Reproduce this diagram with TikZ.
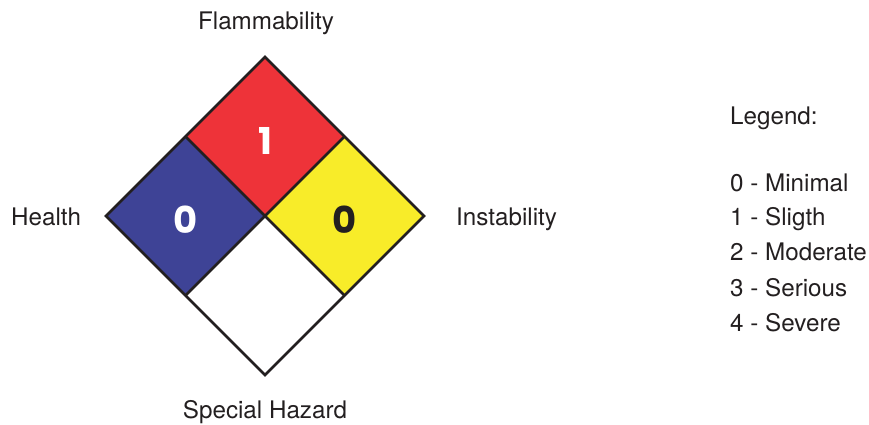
\documentclass[tikz,border=0pt]{standalone}
\usepackage{fontspec}
\setmainfont{TeX Gyre Heros}
\newfontfamily\numfont{Poppins}[UprightFont=* Bold]
\definecolor{nfpared}{RGB}{238,51,57}
\definecolor{nfpablue}{RGB}{62,67,150}
\definecolor{nfpayellow}{RGB}{248,236,41}
\definecolor{edge}{RGB}{35,31,32}
\definecolor{txt}{RGB}{35,31,32}
\begin{document}
\begin{tikzpicture}[x=1pt,y=-1pt,
  cell/.style={draw=edge,line width=2.6pt,line join=miter},
  lbl/.style={inner sep=0pt,text=txt,font=\fontsize{24.2}{28}\selectfont},
  num/.style={inner sep=0pt,font=\numfont\fontsize{37}{40}\selectfont}]
\useasboundingbox (0,0) rectangle (869,424);
\coordinate (T) at (265,57);
\coordinate (L) at (106,216);
\coordinate (R) at (424,216);
\coordinate (B) at (265,375);
\coordinate (C) at (265,216);
\coordinate (TL) at (185.5,136.5);
\coordinate (TR) at (344.5,136.5);
\coordinate (BL) at (185.5,295.5);
\coordinate (BR) at (344.5,295.5);
\fill[nfpared] (T) -- (TR) -- (C) -- (TL) -- cycle;
\fill[nfpablue] (TL) -- (C) -- (BL) -- (L) -- cycle;
\fill[nfpayellow] (TR) -- (R) -- (BR) -- (C) -- cycle;
\fill[white] (C) -- (BR) -- (B) -- (BL) -- cycle;
\draw[cell] (T) -- (R) -- (B) -- (L) -- cycle;
\draw[cell] (TL) -- (BR);
\draw[cell] (TR) -- (BL);
\node[num,text=white] (n1) at (265,141) {1};
\node[num,text=white] (n2) at (185.5,219.5) {0};
\node[num,text=txt] (n3) at (344.5,219.5) {0};
\node[lbl,anchor=base] (flam) at (266,29) {Flammability};
\node[lbl,anchor=base west] (health) at (11,225) {Health};
\node[lbl,anchor=base west] (inst) at (456,225) {Instability};
\node[lbl,anchor=base] (spec) at (265,418) {Special Hazard};
\node[lbl,anchor=base west] (leg) at (730,124) {Legend:};
\node[lbl,anchor=base west] (l0) at (730,191) {0 - Minimal};
\node[lbl,anchor=base west] (l1) at (730,225) {1 - Sligth};
\node[lbl,anchor=base west] (l2) at (730,260) {2 - Moderate};
\node[lbl,anchor=base west] (l3) at (730,296) {3 - Serious};
\node[lbl,anchor=base west] (l4) at (730,331) {4 - Severe};
\end{tikzpicture}
\end{document}
